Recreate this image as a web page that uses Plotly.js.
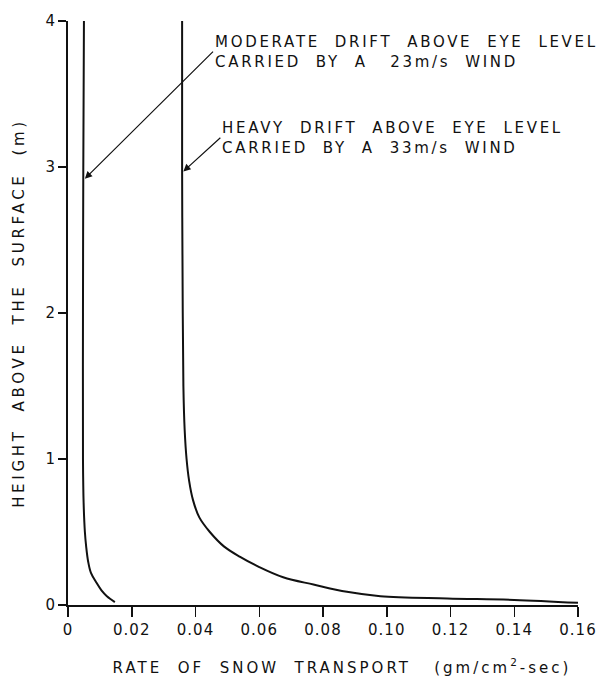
<!DOCTYPE html>
<html>
<head>
<meta charset="utf-8">
<script src="https://cdn.plot.ly/plotly-3.0.1.min.js"></script>
<style>
html,body{margin:0;padding:0;background:#fff;}
#chart{width:608px;height:682px;}
</style>
</head>
<body>
<div id="chart"></div>
<script>
// Moderate drift (23 m/s wind)
const moderateHeight = [4.0, 3.0, 2.0, 1.0, 0.7, 0.5, 0.4, 0.3, 0.22, 0.15, 0.1, 0.06, 0.02];
const moderateRate   = [0.0050, 0.0048, 0.0047, 0.0047, 0.0049, 0.0053, 0.0057, 0.0063, 0.0072, 0.0090, 0.0105, 0.0122, 0.0147];
// Heavy drift (33 m/s wind)
const heavyHeight = [4.0, 3.0, 2.0, 1.5, 1.2, 1.0, 0.85, 0.72, 0.6, 0.5, 0.4, 0.33, 0.26, 0.19, 0.14, 0.09, 0.06, 0.045, 0.035, 0.015];
const heavyRate   = [0.0358, 0.0358, 0.0360, 0.0362, 0.0366, 0.0372, 0.0380, 0.0392, 0.0412, 0.0445, 0.0490, 0.0540, 0.0600, 0.0675, 0.0770, 0.0875, 0.0980, 0.1190, 0.1400, 0.1600];

const xTickVals = [0, 0.02, 0.04, 0.06, 0.08, 0.10, 0.12, 0.14, 0.16];
const xTickText = ['0', '0.02', '0.04', '0.06', '0.08', '0.10', '0.12', '0.14', '0.16'];
const yTickVals = [0, 1, 2, 3, 4];
const yTickText = ['0', '1', '2', '3', '4'];

const moderateLabel = ['MODERATE  DRIFT  ABOVE  EYE  LEVEL', 'CARRIED  BY  A   23m/s  WIND'];
const heavyLabel = ['HEAVY  DRIFT  ABOVE  EYE  LEVEL', 'CARRIED  BY  A  33m/s  WIND'];
const xTitle = 'RATE  OF  SNOW  TRANSPORT   (gm/cm<sup>2</sup>-sec)';
const yTitle = 'HEIGHT  ABOVE  THE  SURFACE  (m)';

const sp = s => s.replace(/ /g, '\u00a0');

const lineStyle = {color: '#111', width: 2, shape: 'spline', smoothing: 1};
const traces = [
  {x: moderateRate, y: moderateHeight, mode: 'lines', line: lineStyle, hoverinfo: 'skip'},
  {x: heavyRate, y: heavyHeight, mode: 'lines', line: lineStyle, hoverinfo: 'skip'}
];

const font = {family: 'DejaVu Sans, sans-serif', color: '#111'};
const f = s => Object.assign({size: s}, font);

const layout = {
  width: 608, height: 682,
  margin: {l: 68, r: 30, t: 21, b: 77},
  paper_bgcolor: '#fff', plot_bgcolor: '#fff',
  showlegend: false,
  font: f(15),
  xaxis: {
    range: [0, 0.16], showgrid: false, zeroline: false,
    showline: true, linecolor: '#111', linewidth: 2,
    ticks: 'outside', ticklen: 10, tickwidth: 1.5, tickcolor: '#111',
    tickvals: xTickVals, ticktext: xTickText,
    tickfont: f(15),
    title: {text: sp(xTitle), font: f(15), standoff: 24}
  },
  yaxis: {
    range: [0, 4], showgrid: false, zeroline: false,
    showline: true, linecolor: '#111', linewidth: 2,
    ticks: 'outside', ticklen: 8, tickwidth: 1.5, tickcolor: '#111',
    tickvals: yTickVals, ticktext: yTickText,
    tickfont: f(15),
    title: {text: sp(yTitle), font: f(15), standoff: 17}
  },
  annotations: [
    {x: 0.0053, y: 2.92, ax: 0.0455, ay: 3.79, xref: 'x', yref: 'y', axref: 'x', ayref: 'y',
     xanchor: 'left', yanchor: 'middle', align: 'left',
     showarrow: true, arrowhead: 2, arrowsize: 1.2, arrowwidth: 1.2, arrowcolor: '#111',
     text: sp(moderateLabel[0]) + '<br>' + sp(moderateLabel[1]), font: f(15)},
    {x: 0.0362, y: 2.97, ax: 0.0478, ay: 3.20, xref: 'x', yref: 'y', axref: 'x', ayref: 'y',
     xanchor: 'left', yanchor: 'middle', align: 'left',
     showarrow: true, arrowhead: 2, arrowsize: 1.2, arrowwidth: 1.2, arrowcolor: '#111',
     text: sp(heavyLabel[0]) + '<br>' + sp(heavyLabel[1]), font: f(15)}
  ]
};

Plotly.newPlot('chart', traces, layout, {staticPlot: true, displayModeBar: false}).then(() => {
  document.querySelectorAll('.annotation-text').forEach(t => t.style.letterSpacing = '2.7px');
  document.querySelectorAll('.xtitle').forEach(t => {
    t.style.letterSpacing = '3px';
    t.setAttribute('transform', 'translate(19,0)');
  });
  document.querySelectorAll('.ytitle').forEach(t => t.style.letterSpacing = '3.7px');
  document.querySelectorAll('.xtick text').forEach(t => t.style.letterSpacing = '1px');
});
</script>
</body>
</html>
